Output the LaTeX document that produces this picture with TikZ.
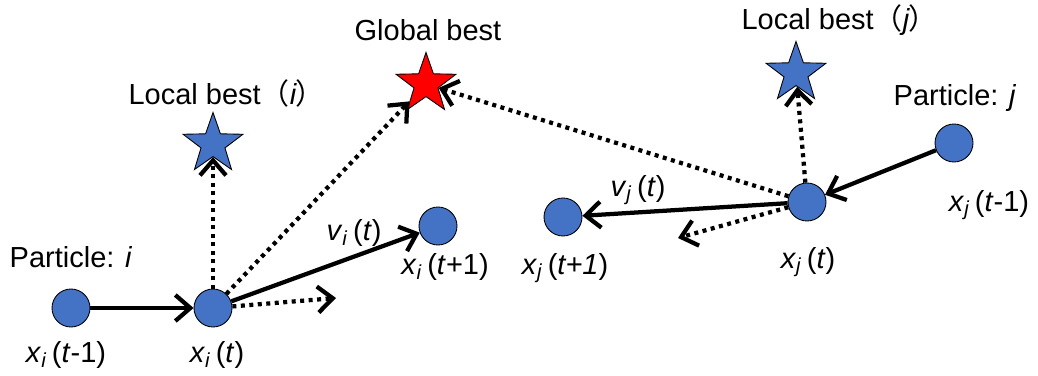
\documentclass[tikz,border=0pt]{standalone}
\usepackage{fontspec}
\setmainfont{Liberation Sans}
\newfontfamily\cjk{Noto Sans CJK JP}
\newfontfamily\cjkp[RawFeature=+palt]{Noto Sans CJK JP}
\usetikzlibrary{shapes.geometric,arrows.meta}
\definecolor{ppblue}{HTML}{4472C4}
\definecolor{ppred}{HTML}{FF0000}
\newcommand{\xlab}[2]{\textit{x}\textsubscript{\textit{#1}}\,(#2)}
\newcommand{\vlab}[1]{\textit{v}\textsubscript{\textit{#1}}\,(\textit{t})}
\newcommand{\fwp}[1]{{\cjk（}\textit{#1}{\cjkp）}}
\tikzset{
  particle/.style={circle, draw=black, line width=0.5pt, fill=ppblue, minimum size=7.6mm, inner sep=0pt},
  beststar/.style={star, star points=5, star point ratio=2.5, draw=black, line width=0.5pt, inner sep=0pt, minimum size=12.6mm},
  move/.style={line width=0.85mm, -{Straight Barb[length=3mm,width=5.2mm]}},
  pull/.style={move, dash pattern=on 0.8mm off 0.9mm},
  lbl/.style={font=\fontsize{16.5}{19}\selectfont, inner sep=0pt}
}
\begin{document}
\begin{tikzpicture}[x=0.2mm, y=-0.2mm]
  \useasboundingbox (0,0) rectangle (1038,376);

  % particles
  \node[particle] (xi0) at (71,308) {};
  \node[particle] (xi1) at (213,308) {};
  \node[particle] (xi2) at (438,226) {};
  \node[particle] (xj2) at (563,217) {};
  \node[particle] (xj1) at (807,202) {};
  \node[particle] (xj0) at (954,143) {};

  % best positions
  \node[beststar, fill=ppblue] (lbi) at (213,144) {};
  \node[beststar, fill=ppred] (gb) at (426,84) {};
  \node[beststar, fill=ppblue] (lbj) at (796,73) {};

  % texts
  \node[lbl] (pi) at (71,257) {Particle: \textit{i}};
  \node[lbl] (pj) at (955,98) {Particle: \textit{j}};
  \node[lbl] (lbitxt) at (220,93) {Local best\fwp{i}};
  \node[lbl] (gbtxt) at (428,30) {Global best};
  \node[lbl] (lbjtxt) at (833,20) {Local best\fwp{j}};
  \node[lbl] (xi0txt) at (66,355) {\xlab{i}{\textit{t}-1}};
  \node[lbl] (xi1txt) at (217,355) {\xlab{i}{\textit{t}}};
  \node[lbl] (xi2txt) at (445,267) {\xlab{i}{\textit{t}+1}};
  \node[lbl] (vitxt) at (354,233) {\vlab{i}};
  \node[lbl] (xj2txt) at (565,268) {\xlab{j}{\textit{t+1}}};
  \node[lbl] (vjtxt) at (638,190) {\vlab{j}};
  \node[lbl] (xj1txt) at (808,262) {\xlab{j}{\textit{t}}};
  \node[lbl] (xj0txt) at (989,205) {\xlab{j}{\textit{t}-1}};

  % free ends of the short arrows
  \coordinate (ii) at (336,298);
  \coordinate (ij) at (678,238);

  % moves
  \draw[move] (xi0) -- (xi1);
  \draw[move] (xi1) -- (xi2);
  \draw[move] (xj0) -- (xj1);
  \draw[move] (xj1) -- (xj2);

  % pulls
  \draw[pull] (xi1) -- (lbi);
  \draw[pull] (xi1) -- (gb);
  \draw[pull] (xi1) -- (ii);
  \draw[pull] (xj1) -- (gb);
  \draw[pull] (xj1) -- (lbj);
  \draw[pull] (xj1) -- (ij);
\end{tikzpicture}
\end{document}
